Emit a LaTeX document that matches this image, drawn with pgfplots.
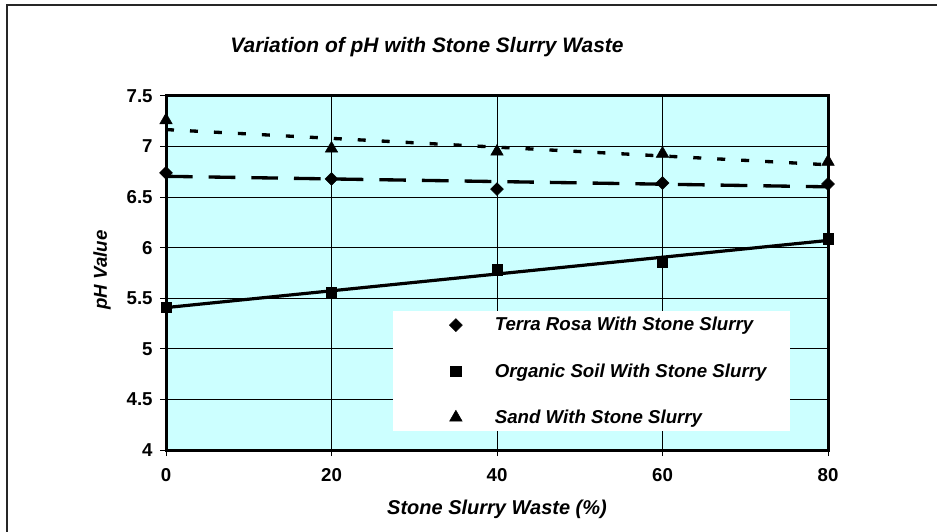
\documentclass[border=0pt]{standalone}
\usepackage{pgfplots}
\pgfplotsset{compat=1.18}
\usepackage{fontspec}
\setmainfont{Liberation Sans}
\definecolor{plotbg}{HTML}{CCFFFF}
\begin{document}
\begin{tikzpicture}[x=1pt,y=1pt]
\useasboundingbox (0,0) rectangle (702.75,398.25);
% outer frame (only top and left visible)
\draw[line width=1.5pt,black!85] (5.25,-5) -- (5.25,394.5) -- (710,394.5);
\node[font=\fontsize{15.7}{18}\selectfont\bfseries\itshape] at (320.25,363) {Variation of pH with Stone Slurry Waste};
\node[font=\fontsize{15}{18}\selectfont\bfseries\itshape] at (372.75,16.5) {Stone Slurry Waste (\%)};
\node[font=\fontsize{14}{17}\selectfont\bfseries\itshape,rotate=90] at (76.5,195.75) {pH Value};
\begin{axis}[
  at={(124.5pt,60.75pt)}, anchor=south west,
  scale only axis, width=496.5pt, height=265.5pt,
  xmin=0, xmax=80, ymin=4, ymax=7.5,
  xtick={0,20,40,60,80}, ytick={4,4.5,5,5.5,6,6.5,7,7.5},
  yticklabels={4,4.5,5,5.5,6,6.5,7,7.5},
  xticklabels={0,20,40,60,80},
  tick pos=left, tick align=outside, major tick length=4.5pt,
  tick style={black, line width=0.75pt},
  grid=major, major grid style={black, line width=0.75pt},
  axis line style={black, line width=2.25pt},
  axis background/.style={fill=plotbg},
  ticklabel style={font=\fontsize{14}{17}\selectfont\bfseries},
  yticklabel style={xshift=-2pt},
  xticklabel style={yshift=-6pt},
  /pgf/number format/assume math mode=true,
  legend style={at={(rel axis cs:0.425,0.383)}, anchor=north west, draw=none, fill=none,
    font=\fontsize{14}{16}\selectfont\bfseries\itshape, row sep=19pt, inner sep=0pt},
  legend cell align=left,
  legend image code/.code={\draw[only marks] plot coordinates {(0pt,0pt)}; \path (-6pt,0pt) (27pt,0pt);},
  clip=false,
]
\fill[white] (rel axis cs:0.343,0.054) rectangle (rel axis cs:0.943,0.393);
% trend lines (linear fits, endpoints)
\addplot[forget plot, black, line width=2.5pt, dash pattern=on 20pt off 12pt] coordinates {(0,6.706) (80,6.602)};
\addplot[forget plot, black, line width=2.4pt] coordinates {(0,5.408) (80,6.072)};
\addplot[forget plot, black, line width=2.5pt, dash pattern=on 6pt off 12pt] coordinates {(0,7.168) (80,6.820)};
% data
\addplot[only marks, mark=square*, mark size=3.4pt, mark options={rotate=45, fill=black, draw=black}] coordinates {(0,6.74) (20,6.68) (40,6.58) (60,6.64) (80,6.63)};
\addlegendentry{Terra Rosa With Stone Slurry}
\addplot[only marks, mark=square*, mark size=3.9pt, mark options={fill=black, draw=black}] coordinates {(0,5.41) (20,5.56) (40,5.78) (60,5.86) (80,6.09)};
\addlegendentry{Organic Soil With Stone Slurry}
\addplot[only marks, mark=triangle*, mark size=5.4pt, mark options={fill=black, draw=black}] coordinates {(0,7.26) (20,6.98) (40,6.95) (60,6.93) (80,6.85)};
\addlegendentry{Sand With Stone Slurry}
\end{axis}
\end{tikzpicture}
\end{document}
